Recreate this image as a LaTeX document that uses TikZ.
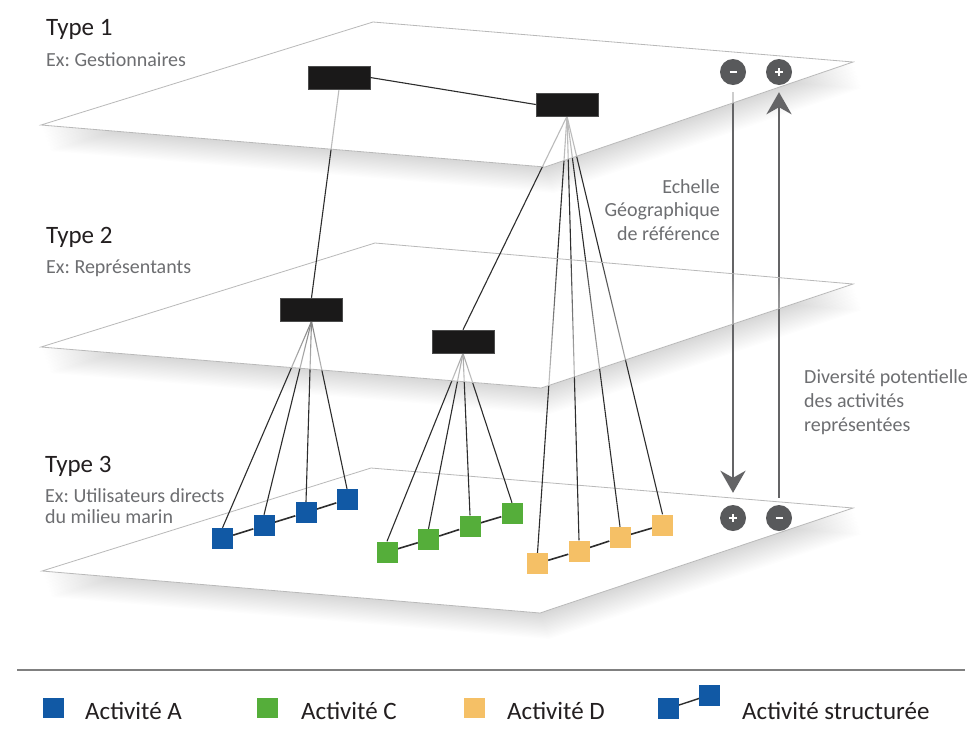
\documentclass[tikz,border=0pt]{standalone}
\usepackage{fontspec}
\setmainfont{Carlito}
\frenchspacing
\usetikzlibrary{arrows.meta,fadings}
\pgfdeclarelayer{base}
\pgfdeclarelayer{under}
\pgfdeclarelayer{ptwo}
\pgfdeclarelayer{mid}
\pgfdeclarelayer{pone}
\pgfsetlayers{base,under,ptwo,mid,pone,main}
\definecolor{actblue}{RGB}{17,89,165}
\definecolor{actgreen}{RGB}{85,174,58}
\definecolor{actorange}{RGB}{245,192,102}
\definecolor{circgray}{RGB}{88,89,91}
\definecolor{arrgray}{RGB}{100,100,102}
\definecolor{txtdark}{RGB}{35,31,32}
\definecolor{txtgray}{RGB}{109,110,113}
\definecolor{linedark}{RGB}{45,45,45}
\definecolor{boxblack}{RGB}{26,25,25}
\definecolor{planeedge}{RGB}{185,185,185}
\definecolor{legline}{RGB}{128,128,128}
\tikzfading[name=planefade, top color=transparent!100, bottom color=transparent!25]
\newcommand\planeshadow[4]{\foreach \i in {1,...,20}{\fill[black,opacity=0.0075,shift={(\i*0.45,\i*1.3)}] (#1) -- (#2) -- (#3) -- (#4) -- cycle;}}
\begin{document}
\begin{tikzpicture}[x=1pt,y=-1pt,
  plane/.style={draw=planeedge, line width=0.8pt},
  topbox/.style={rectangle, fill=boxblack, draw=black!70, line width=0.5pt, minimum width=62pt, minimum height=23pt, inner sep=0pt},
  actsq/.style={rectangle, minimum width=21pt, minimum height=21pt, inner sep=0pt},
  conn/.style={draw=linedark, line width=1.1pt},
  bar/.style={draw=linedark, line width=1.6pt},
  bigarrow/.style={draw=arrgray, line width=2.8pt, -{Stealth[length=22pt,width=25pt,inset=7pt]}},
  signcirc/.style={circle, fill=circgray, minimum size=26pt, inner sep=0pt},
  sign/.style={draw=white, line width=2.2pt},
  typelab/.style={anchor=base west, inner sep=0pt, text=txtdark, font=\fontsize{25}{30}\selectfont},
  exlab/.style={anchor=base west, inner sep=0pt, text=txtgray, font=\fontsize{20}{24}\selectfont},
  sideright/.style={anchor=base east, inner sep=0pt, text=txtgray, font=\fontsize{20}{24}\selectfont},
  sideleft/.style={anchor=base west, inner sep=0pt, text=txtgray, font=\fontsize{20}{24}\selectfont},
  legtxt/.style={anchor=base west, inner sep=0pt, text=txtdark, font=\fontsize{25}{30}\selectfont}
]
\useasboundingbox (0,0) rectangle (973,753);

% ---------- planes: shadows and opaque bases ----------
\begin{pgfonlayer}{base}
  \fill[white] (0,0) rectangle (973,753);
  \planeshadow{42,571}{371,468}{853,508}{540,613}
  \fill[white] (42,571) -- (371,468) -- (853,508) -- (540,613) -- cycle;
  \draw[plane] (42,571) -- (371,468) -- (853,508) -- (540,613) -- cycle;
  \planeshadow{41,347}{375,243}{853,284}{541,388}
  \fill[white] (41,347) -- (375,243) -- (853,284) -- (541,388) -- cycle;
  \planeshadow{41,125}{373,22}{853,62}{545,167}
  \fill[white] (41,125) -- (373,22) -- (853,62) -- (545,167) -- cycle;
\end{pgfonlayer}

% ---------- nodes ----------
\begin{pgfonlayer}{mid}
  \node[topbox] (t2a) at (311.5,309.5) {};
  \node[topbox] (t2b) at (463,341.5) {};
\end{pgfonlayer}
\node[topbox] (t1a) at (339,77.5) {};
\node[topbox] (t1b) at (567,104.5) {};

\node[actsq, fill=actblue] (b1) at (222.5,538.5) {};
\node[actsq, fill=actblue] (b2) at (264,525.5) {};
\node[actsq, fill=actblue] (b3) at (306,512.5) {};
\node[actsq, fill=actblue] (b4) at (347,499.5) {};
\node[actsq, fill=actgreen] (g1) at (387,552) {};
\node[actsq, fill=actgreen] (g2) at (428.5,539.5) {};
\node[actsq, fill=actgreen] (g3) at (470,526) {};
\node[actsq, fill=actgreen] (g4) at (512,513.5) {};
\node[actsq, fill=actorange] (o1) at (537.5,563.5) {};
\node[actsq, fill=actorange] (o2) at (579,551) {};
\node[actsq, fill=actorange] (o3) at (620,537.5) {};
\node[actsq, fill=actorange] (o4) at (662.5,525) {};

\node[signcirc] (mtop) at (733,72) {};
\node[signcirc] (ptop) at (779,72) {};
\node[signcirc] (pbot) at (733,518) {};
\node[signcirc] (mbot) at (779,518) {};

% ---------- connectors passing beneath planes ----------
\begin{pgfonlayer}{under}
  \foreach \s in {b1,b2,b3,b4} \draw[conn] (t2a.south) -- (\s.north);
  \foreach \s in {g1,g2,g3,g4} \draw[conn] (t2b.south) -- (\s.north);
  \foreach \s in {o1,o2,o3,o4} \draw[conn] (t1b.south) -- (\s.north);
  \draw[bar] (b1) -- (b2) -- (b3) -- (b4);
  \draw[bar] (g1) -- (g2) -- (g3) -- (g4);
  \draw[bar] (o1) -- (o2) -- (o3) -- (o4);
  \draw[bigarrow] ([yshift=-7pt]mtop.south) -- ([yshift=12pt]pbot.north);
  \draw[bigarrow] ([yshift=7pt]mbot.north) -- ([yshift=-7pt]ptop.south);
\end{pgfonlayer}

% ---------- plane 2 overlay ----------
\begin{pgfonlayer}{ptwo}
  \fill[white, path fading=planefade] (41,347) -- (375,243) -- (853,284) -- (541,388) -- cycle;
  \draw[plane] (41,347) -- (375,243) -- (853,284) -- (541,388) -- cycle;
\end{pgfonlayer}

% ---------- level 1 -> level 2 connectors ----------
\begin{pgfonlayer}{mid}
  \draw[conn] (t1a.south) -- (t2a.north);
  \draw[conn] (t1b.south) -- (t2b.north);
\end{pgfonlayer}

% ---------- plane 1 overlay ----------
\begin{pgfonlayer}{pone}
  \fill[white, fill opacity=0.68] (41,125) -- (373,22) -- (853,62) -- (545,167) -- cycle;
  \draw[plane] (41,125) -- (373,22) -- (853,62) -- (545,167) -- cycle;
\end{pgfonlayer}

\draw[conn] (t1a.east) -- (t1b.west);

% signs
\draw[sign] ([xshift=-3.5pt]mtop.center) -- ([xshift=3.5pt]mtop.center);
\draw[sign] ([xshift=-3.5pt]mbot.center) -- ([xshift=3.5pt]mbot.center);
\draw[sign] ([xshift=-4pt]ptop.center) -- ([xshift=4pt]ptop.center);
\draw[sign] ([yshift=-4pt]ptop.center) -- ([yshift=4pt]ptop.center);
\draw[sign] ([xshift=-4pt]pbot.center) -- ([xshift=4pt]pbot.center);
\draw[sign] ([yshift=-4pt]pbot.center) -- ([yshift=4pt]pbot.center);

% ---------- labels ----------
\node[typelab] (ty1) at (46,35) {Type 1};
\node[exlab] (ex1) at (46,66) {Ex: Gestionnaires};
\node[typelab] (ty2) at (46,243) {Type 2};
\node[exlab] (ex2) at (46,273) {Ex: Représentants};
\node[typelab] (ty3) at (45,472) {Type 3};
\node[exlab] (ex3a) at (45,502) {Ex: Utilisateurs directs};
\node[exlab] (ex3b) at (45,523) {du milieu marin};

\node[sideright] (ech1) at (720,193) {Echelle};
\node[sideright] (ech2) at (720,216.5) {Géographique};
\node[sideright] (ech3) at (720,240) {de référence};

\node[sideleft] (div1) at (804,383) {Diversité potentielle};
\node[sideleft] (div2) at (804,407) {des activités};
\node[sideleft] (div3) at (804,431) {représentées};

% ---------- legend ----------
\coordinate (legL) at (17,670);
\coordinate (legR) at (965,670);
\draw[draw=legline, line width=2pt] (legL) -- (legR);

\node[actsq, fill=actblue, minimum height=20pt] (lgA) at (53.5,708) {};
\node[legtxt] (ltA) at (85,719) {Activité A};
\node[actsq, fill=actgreen, minimum height=20pt] (lgC) at (267.5,708) {};
\node[legtxt] (ltC) at (301,719) {Activité C};
\node[actsq, fill=actorange, minimum height=20pt] (lgD) at (474.5,708) {};
\node[legtxt] (ltD) at (507,719) {Activité D};
\draw[draw=linedark, line width=1.4pt] (668.5,708.5) -- (709.5,695);
\node[actsq, fill=actblue] (ls1) at (668.5,708.5) {};
\node[actsq, fill=actblue] (ls2) at (709.5,695) {};
\node[legtxt] (ltS) at (742,719) {Activité structurée};
\end{tikzpicture}
\end{document}
